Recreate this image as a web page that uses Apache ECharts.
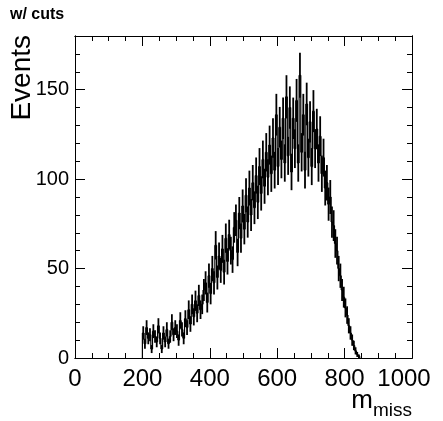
<!DOCTYPE html>
<html>
<head>
	<meta charset="utf-8">
	<script src="https://cdn.jsdelivr.net/npm/echarts@6/dist/echarts.min.js"></script>
</head>
<body style="margin:0; background:#fff">
	<div id="main" style="width: 443px; height: 421px"></div>
	<script type="text/javascript">
		// histogram: lower edge of first bin, bin width, counts per bin
		var binStart = 200;
		var binWidth = 5;
		var counts = [
			14, 8, 17, 11, 13, 5, 15, 12, 9, 18,         // 200-245
			11, 5, 14, 9, 16, 8, 12, 20, 13, 17,         // 250-295
			15, 10, 21, 16, 11, 22, 17, 27, 19, 30,      // 300-345
			23, 32, 25, 35, 27, 30, 38, 42, 31, 46,      // 350-395
			36, 50, 42, 63, 45, 57, 49, 61, 48, 67,      // 400-445
			54, 69, 60, 55, 73, 77, 59, 81, 67, 85,      // 450-495
			72, 91, 76, 95, 80, 98, 84, 102, 87, 107,    // 500-545
			92, 111, 96, 115, 101, 119, 103, 123, 105, 136, // 550-595
			107, 129, 111, 134, 109, 146, 113, 140, 104, 134, // 600-645
			117, 144, 109, 158, 115, 136, 105, 142, 112, 132, // 650-695
			107, 138, 117, 128, 109, 124, 103, 112, 95, 98,   // 700-745
			86, 90, 76, 74, 64, 60, 50, 46, 38, 34,      // 750-795
			28, 24, 18, 14, 10, 7, 4, 2, 1               // 800-840
		];
		var xTicks = [0, 200, 400, 600, 800, 1000];
		var yTicks = [0, 50, 100, 150];

		var font = "'Liberation Sans', Arial, Helvetica, sans-serif";
		var data = counts.map(function (c, i) { return [binStart + i * binWidth, c]; });

		function yAxisDef(pos, step, len, labels) {
			return {
				type: 'value', position: pos, min: 0, max: 180, interval: step,
				axisLine: { show: true, onZero: false, lineStyle: { color: '#000', width: 1 } },
				axisTick: { show: true, inside: true, length: len, lineStyle: { color: '#000' } },
				axisLabel: {
					show: labels, color: '#000', fontSize: 20, fontFamily: font, margin: 6,
					showMaxLabel: false,
					formatter: function (v) { return yTicks.indexOf(v) >= 0 ? String(v) : ''; }
				},
				splitLine: { show: false }
			};
		}
		function xAxisDef(pos, step, len, labels) {
			return {
				type: 'value', position: pos, min: 0, max: 1000, interval: step,
				axisLine: { show: true, onZero: false, lineStyle: { color: '#000', width: 1 } },
				axisTick: { show: true, inside: true, length: len, lineStyle: { color: '#000' } },
				axisLabel: {
					show: labels, color: '#000', fontSize: 24, fontFamily: font, margin: 9,
					formatter: function (v) {
						if (v === 1000) return '{r|1000}';
						return xTicks.indexOf(v) >= 0 ? String(v) : '';
					},
					rich: { r: { fontSize: 24, fontFamily: font, color: '#000', padding: [0, 16, 0, 0] } }
				},
				splitLine: { show: false }
			};
		}

		var myChart = echarts.init(document.getElementById('main'));
		var option = {
			backgroundColor: '#fff',
			animation: false,
			grid: { left: 75, right: 31, top: 36, bottom: 63 },
			xAxis: [
				xAxisDef('bottom', 200, 10, true),
				xAxisDef('bottom', 50, 5, false),
				xAxisDef('top', 200, 10, false),
				xAxisDef('top', 50, 5, false)
			],
			yAxis: [
				yAxisDef('left', 50, 10, true),
				yAxisDef('left', 10, 5, false),
				yAxisDef('right', 50, 10, false),
				yAxisDef('right', 10, 5, false)
			],
			graphic: [
				{ type: 'text', left: 10, top: 7,
				  style: { text: 'w/ cuts', fontSize: 16, fontWeight: 'bold', fontFamily: font, fill: '#000' } },
				{ type: 'text', x: 22, y: 35, rotation: Math.PI / 2,
				  style: { text: 'Events', fontSize: 28, fontFamily: font, fill: '#000', align: 'right', verticalAlign: 'middle' } },
				{ type: 'text', x: 373, y: 401,
				  style: { text: 'm', fontSize: 26, fontFamily: font, fill: '#000', align: 'right', verticalAlign: 'middle' } },
				{ type: 'text', x: 412, y: 411,
				  style: { text: 'miss', fontSize: 19, fontFamily: font, fill: '#000', align: 'right', verticalAlign: 'middle' } }
			],
			series: [{
				type: 'custom',
				xAxisIndex: 0, yAxisIndex: 0,
				clip: true,
				data: data,
				renderItem: function (params, api) {
					var i = params.dataIndex;
					var x0 = api.value(0), n = api.value(1), e = Math.sqrt(n);
					var prev = i > 0 ? counts[i - 1] : 0;
					var pL = api.coord([x0, n]), pR = api.coord([x0 + binWidth, n]);
					var pP = api.coord([x0, prev]);
					var pT = api.coord([x0 + binWidth / 2, n + e]);
					var pB = api.coord([x0 + binWidth / 2, Math.max(n - e, 0)]);
					var st = { stroke: '#000', lineWidth: 1.2 };
					var kids = [
						{ type: 'line', shape: { x1: pP[0], y1: pP[1], x2: pL[0], y2: pL[1] }, style: st },
						{ type: 'line', shape: { x1: pL[0], y1: pL[1], x2: pR[0], y2: pR[1] }, style: st },
						{ type: 'line', shape: { x1: pT[0], y1: pT[1], x2: pB[0], y2: pB[1] },
						  style: { stroke: '#000', lineWidth: 1.8 } }
					];
					if (i === counts.length - 1) {
						var pZ = api.coord([x0 + binWidth, 0]);
						kids.push({ type: 'line', shape: { x1: pR[0], y1: pR[1], x2: pZ[0], y2: pZ[1] }, style: st });
					}
					return { type: 'group', children: kids };
				}
			}]
		};
		myChart.setOption(option);
	</script>
</body>
</html>
